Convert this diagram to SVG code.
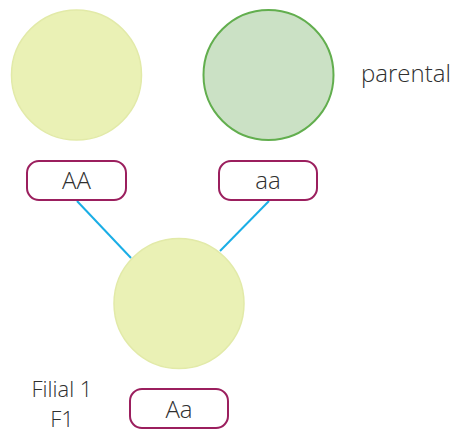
<svg xmlns="http://www.w3.org/2000/svg" width="453" height="433" viewBox="0 0 453 433">
<style>
.lbl{font-family:"Open Sans","Liberation Sans",sans-serif;font-size:24px;fill:#2f2f2f;font-weight:300}
.sm{font-size:22px}
.box{fill:#fff;stroke:#9b1f5e;stroke-width:2}
.yc{fill:#eaf1b5;stroke:#e2eaa8;stroke-width:1.5}
.gc{fill:#cbe1c5;stroke:#62ae4e;stroke-width:2}
.conn{stroke:#1aaee6;stroke-width:2;fill:none}
</style>
<rect width="453" height="433" fill="#fff"/>
<g id="connectors">
<line class="conn" x1="77" y1="201" x2="131" y2="258"/>
<line class="conn" x1="269" y1="201" x2="220" y2="251"/>
</g>
<g id="parent1">
<circle class="yc" cx="76.5" cy="75" r="65"/>
</g>
<g id="parent2">
<circle class="gc" cx="268.5" cy="75" r="65"/>
</g>
<g id="label-parental">
<text class="lbl" x="361" y="82">parental</text>
</g>
<g id="geno-AA">
<rect class="box" x="27" y="161" width="99" height="39" rx="12"/>
<text class="lbl" x="76.5" y="189" text-anchor="middle">AA</text>
</g>
<g id="geno-aa">
<rect class="box" x="219" y="161" width="98" height="39" rx="12"/>
<text class="lbl" x="268" y="189" text-anchor="middle">aa</text>
</g>
<g id="child">
<circle class="yc" cx="179" cy="303.5" r="65"/>
</g>
<g id="geno-Aa">
<rect class="box" x="130" y="389" width="98" height="39" rx="12"/>
<text class="lbl" x="179" y="418" text-anchor="middle">Aa</text>
</g>
<g id="label-filial">
<text class="lbl sm" x="62" y="397" text-anchor="middle">Filial 1</text>
<text class="lbl sm" x="62" y="427" text-anchor="middle">F1</text>
</g>
</svg>
